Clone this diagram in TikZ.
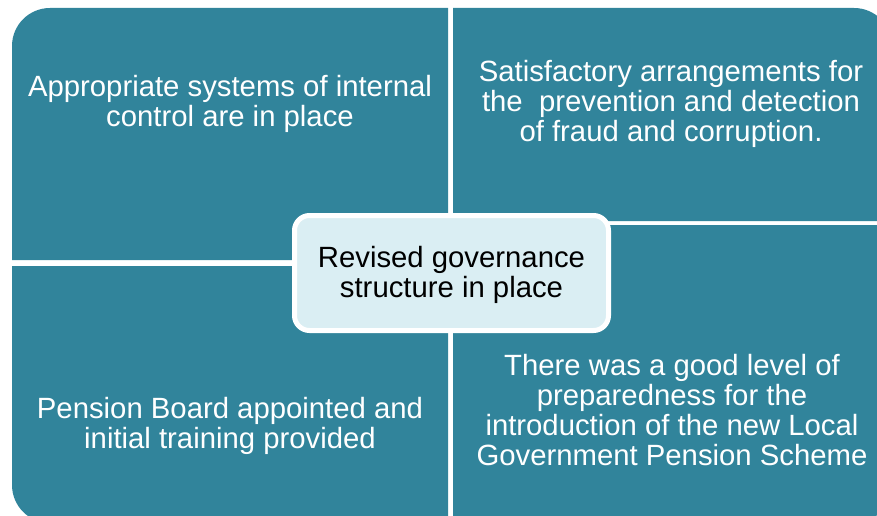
\documentclass[tikz,border=0pt]{standalone}
\usepackage{fontspec}
\setmainfont{Liberation Sans}
\usetikzlibrary{positioning}
\definecolor{quadteal}{RGB}{49,132,155}
\definecolor{corefill}{RGB}{218,238,243}
\begin{document}
\begin{tikzpicture}[x=1pt,y=1pt]
                        \tikzstyle{quad}=[fill=quadteal,draw=none]
                        \tikzstyle{quadtext}=[text=white,align=center,inner sep=0,font=\fontsize{29.3}{30}\selectfont]
                        \tikzstyle{core}=[draw=white,line width=5,fill=corefill,rounded corners=15,minimum width=314,minimum height=115,align=center,inner sep=0,font=\fontsize{29.3}{30}\selectfont]
                        {
                            \clip (0,0) rectangle (877,515);

                            \fill[quad] (448,255) -- (12,255) -- (12,469)
                                arc[start angle=180,end angle=90,radius=38] -- (448,507) -- cycle;
                            \fill[quad] (453,294) -- (453,507) -- (854,507)
                                arc[start angle=90,end angle=0,radius=38] -- (892,294) -- cycle;
                            \fill[quad] (448,249) -- (12,249) -- (12,30)
                                arc[start angle=180,end angle=270,radius=38] -- (448,-8) -- cycle;
                            \fill[quad] (453,290) -- (892,290) -- (892,30)
                                arc[start angle=0,end angle=-90,radius=38] -- (453,-8) -- cycle;

                            \node[quadtext] (control) at (230,411.5) {Appropriate systems of internal\\control are in place};
                            \node[quadtext] (fraud) at (671,411.5) {Satisfactory arrangements for\\the\ \ prevention and detection\\of fraud and corruption.};
                            \node[quadtext] (board) at (230,89.5) {Pension Board appointed and\\initial training provided};
                            \node[quadtext] (scheme) at (672,104.5) {There was a good level of\\preparedness for the\\introduction of the new Local\\Government Pension Scheme};

                            \node[core] (revised) at (451.5,242) {};
                            \node[inner sep=0,align=center,font=\fontsize{29.3}{30}\selectfont] (revisedtext) at (451.5,240) {Revised governance\\structure in place};
                        }
                    \end{tikzpicture}
\end{document}
